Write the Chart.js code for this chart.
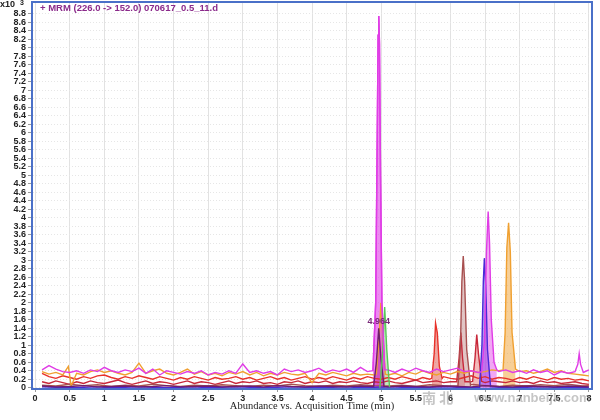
<!DOCTYPE html>
<html>
<head>
<meta charset="utf-8">
<script src="https://cdn.jsdelivr.net/npm/chart.js@4.4.1/dist/chart.umd.min.js"></script>
<style>
  html, body { margin: 0; padding: 0; background: #fff; }
  #wrap { width: 600px; height: 420px; position: relative; }
</style>
</head>
<body>
<div id="wrap"><canvas id="chart" width="600" height="420"></canvas></div>
<script>
// Sample times (min) of the baseline traces
const times = [0.1, 0.2, 0.3, 0.4, 0.5, 0.6, 0.7, 0.8, 0.9, 1.0,
    1.1, 1.2, 1.3, 1.4, 1.5, 1.6, 1.7, 1.8, 1.9, 2.0,
    2.1, 2.2, 2.3, 2.4, 2.5, 2.6, 2.7, 2.8, 2.9, 3.0,
    3.1, 3.2, 3.3, 3.4, 3.5, 3.6, 3.7, 3.8, 3.9, 4.0,
    4.1, 4.2, 4.3, 4.4, 4.5, 4.6, 4.7, 4.8, 4.9, 5.0,
    5.1, 5.2, 5.3, 5.4, 5.5, 5.6, 5.7, 5.8, 5.9, 6.0,
    6.1, 6.2, 6.3, 6.4, 6.5, 6.6, 6.7, 6.8, 6.9, 7.0,
    7.1, 7.2, 7.3, 7.4, 7.5, 7.6, 7.7, 7.8, 7.9, 8.0];
const timesLow = [0.1, 0.3, 0.5, 0.7, 0.9, 1.1, 1.3, 1.5, 1.7, 1.9,
    2.1, 2.3, 2.5, 2.7, 2.9, 3.1, 3.3, 3.5, 3.7, 3.9,
    4.1, 4.3, 4.5, 4.7, 4.9, 5.1, 5.3, 5.5, 5.7, 5.9,
    6.1, 6.3, 6.5, 6.7, 6.9, 7.1, 7.3, 7.5, 7.7, 7.9, 8.0];

// Abundance (x10^3) baselines
const magentaBase = [0.42, 0.52, 0.44, 0.38, 0.36, 0.40, 0.34, 0.42, 0.38, 0.48,
    0.40, 0.36, 0.42, 0.38, 0.46, 0.34, 0.44, 0.30, 0.40, 0.36,
    0.32, 0.38, 0.34, 0.40, 0.30, 0.36, 0.32, 0.40, 0.34, 0.56,
    0.36, 0.40, 0.34, 0.38, 0.30, 0.44, 0.38, 0.42, 0.36, 0.40,
    0.46, 0.36, 0.42, 0.38, 0.44, 0.36, 0.48, 0.38, 0.40, 0.38,
    0.42, 0.36, 0.44, 0.38, 0.46, 0.40, 0.36, 0.44, 0.38, 0.42,
    0.46, 0.38, 0.40, 0.36, 0.40, 0.44, 0.38, 0.42, 0.36, 0.40,
    0.34, 0.42, 0.36, 0.40, 0.30, 0.38, 0.34, 0.40, 0.36, 0.42];
const orangeBase = [0.38, 0.32, 0.36, 0.30, 0.28, 0.34, 0.30, 0.38, 0.42, 0.36,
    0.40, 0.34, 0.30, 0.36, 0.58, 0.34, 0.40, 0.44, 0.34, 0.30,
    0.36, 0.44, 0.32, 0.38, 0.30, 0.34, 0.28, 0.36, 0.32, 0.38,
    0.30, 0.36, 0.28, 0.34, 0.30, 0.36, 0.32, 0.30, 0.34, 0.12,
    0.34, 0.30, 0.36, 0.32, 0.28, 0.34, 0.30, 0.32, 0.30, 0.34,
    0.30, 0.34, 0.28, 0.36, 0.32, 0.40, 0.34, 0.30, 0.36, 0.32,
    0.38, 0.34, 0.40, 0.36, 0.38, 0.42, 0.40, 0.44, 0.42, 0.38,
    0.40, 0.34, 0.38, 0.44, 0.36, 0.40, 0.34, 0.32, 0.30, 0.28];
const redBase = [0.34, 0.26, 0.22, 0.28, 0.24, 0.20, 0.26, 0.22, 0.28, 0.30,
    0.24, 0.20, 0.26, 0.22, 0.28, 0.24, 0.20, 0.26, 0.22, 0.18,
    0.24, 0.20, 0.26, 0.22, 0.18, 0.24, 0.20, 0.22, 0.26, 0.20,
    0.24, 0.18, 0.22, 0.26, 0.20, 0.24, 0.18, 0.22, 0.26, 0.20,
    0.24, 0.20, 0.26, 0.22, 0.18, 0.24, 0.20, 0.26, 0.22, 0.20,
    0.24, 0.20, 0.26, 0.22, 0.18, 0.24, 0.20, 0.22, 0.26, 0.22,
    0.20, 0.24, 0.28, 0.22, 0.26, 0.20, 0.24, 0.22, 0.18, 0.24,
    0.20, 0.26, 0.22, 0.18, 0.24, 0.20, 0.22, 0.18, 0.20, 0.16];
const darkRedBase = [0.14, 0.10, 0.16, 0.12, 0.08, 0.14, 0.10, 0.16, 0.12, 0.10,
    0.14, 0.18, 0.12, 0.08, 0.12, 0.16, 0.10, 0.14, 0.12, 0.08,
    0.12, 0.16, 0.10, 0.14, 0.12, 0.08, 0.12, 0.16, 0.10, 0.14,
    0.12, 0.16, 0.10, 0.12, 0.08, 0.14, 0.12, 0.16, 0.10, 0.14,
    0.12, 0.16, 0.10, 0.14, 0.12, 0.16, 0.12, 0.10, 0.14, 0.12,
    0.16, 0.12, 0.10, 0.14, 0.18, 0.12, 0.14, 0.16, 0.12, 0.14,
    0.12, 0.16, 0.14, 0.10, 0.12, 0.16, 0.14, 0.12, 0.16, 0.12,
    0.14, 0.10, 0.16, 0.12, 0.14, 0.10, 0.12, 0.14, 0.10, 0.08];
const brownBase = [0.06, 0.04, 0.08, 0.05, 0.07, 0.03, 0.06, 0.04, 0.08, 0.05,
    0.03, 0.06, 0.04, 0.07, 0.05, 0.03, 0.06, 0.04, 0.08, 0.05,
    0.03, 0.06, 0.04, 0.07, 0.05, 0.04, 0.06, 0.03, 0.07, 0.05,
    0.04, 0.08, 0.05, 0.03, 0.06, 0.04, 0.07, 0.05, 0.08, 0.04, 0.05];
const plumBase = [0.04, 0.02, 0.03, 0.05, 0.02, 0.03, 0.04, 0.02, 0.03, 0.05,
    0.02, 0.03, 0.04, 0.02, 0.03, 0.04, 0.02, 0.05, 0.03, 0.02,
    0.04, 0.03, 0.02, 0.04, 0.03, 0.02, 0.04, 0.03, 0.02, 0.04,
    0.03, 0.02, 0.05, 0.03, 0.02, 0.04, 0.03, 0.02, 0.04, 0.03, 0.02];
const blueBase = [0.02, 0.01, 0.00, 0.01, 0.02, 0.00, 0.01, 0.02, 0.01, 0.00,
    0.01, 0.02, 0.00, 0.01, 0.02, 0.01, 0.00, 0.01, 0.02, 0.01,
    0.00, 0.01, 0.02, 0.00, 0.01, 0.02, 0.01, 0.00, 0.01, 0.02,
    0.01, 0.00, 0.02, 0.01, 0.00, 0.01, 0.02, 0.01, 0.00, 0.01, 0.01];

// Peaks as [time, abundance]
const magentaPeak1 = [[4.88, 0.40], [4.92, 2.0], [4.94, 5.5], [4.955, 8.3], [4.965, 8.75], [4.975, 8.1], [4.99, 5.0], [5.01, 2.0], [5.05, 0.42]];
const magentaPeak2 = [[6.45, 0.38], [6.49, 1.1], [6.52, 3.2], [6.545, 4.15], [6.565, 3.4], [6.59, 1.6], [6.63, 0.6], [6.67, 0.42]];
const magentaPeak3 = [[7.80, 0.38], [7.84, 0.55], [7.86, 0.80], [7.88, 0.55], [7.92, 0.36]];
const orangePeak1 = [[4.93, 0.32], [4.97, 1.2], [4.995, 2.0], [5.02, 1.3], [5.06, 0.32]];
const orangePeak2 = [[6.76, 0.42], [6.79, 1.3], [6.815, 3.3], [6.84, 3.88], [6.865, 3.2], [6.89, 1.3], [6.94, 0.44]];
const orangeSpike = [[0.48, 0.50], [0.52, 0.04]];
const redPeak = [[5.73, 0.22], [5.765, 0.8], [5.785, 1.52], [5.81, 1.3], [5.84, 0.5], [5.88, 0.22]];
const darkRedPeak1 = [[6.09, 0.14], [6.125, 0.7], [6.15, 1.3], [6.175, 0.7], [6.21, 0.14]];
const darkRedPeak2 = [[6.32, 0.15], [6.355, 0.7], [6.38, 1.25], [6.405, 0.8], [6.45, 0.15]];
const brownPeak = [[6.11, 0.05], [6.145, 1.0], [6.165, 2.5], [6.185, 3.1], [6.205, 2.5], [6.235, 0.9], [6.29, 0.06]];
const plumPeak = [[4.89, 0.03], [4.93, 0.6], [4.964, 1.4], [4.995, 0.7], [5.04, 0.03]];
const bluePeak = [[6.42, 0.01], [6.455, 1.0], [6.475, 2.5], [6.49, 3.05], [6.51, 2.4], [6.535, 0.9], [6.58, 0.02]];
const greenPeak = [[4.98, 0.0], [5.02, 0.8], [5.05, 1.9], [5.08, 0.9], [5.12, 0.02]];

const xTicks = [0, 0.5, 1, 1.5, 2, 2.5, 3, 3.5, 4, 4.5, 5, 5.5, 6, 6.5, 7, 7.5, 8];
const yTicks = [0, 0.2, 0.4, 0.6, 0.8, 1, 1.2, 1.4, 1.6, 1.8, 2, 2.2, 2.4, 2.6, 2.8, 3,
    3.2, 3.4, 3.6, 3.8, 4, 4.2, 4.4, 4.6, 4.8, 5, 5.2, 5.4, 5.6, 5.8, 6, 6.2, 6.4, 6.6,
    6.8, 7, 7.2, 7.4, 7.6, 7.8, 8, 8.2, 8.4, 8.6, 8.8];

const titleText = '+ MRM (226.0 -> 152.0) 070617_0.5_11.d';
const peakLabel = { t: 4.964, v: 1.4, text: '4.964' };

// merge baseline samples with the peaks (baseline samples under a peak are dropped)
function trace(ts, vals, peaks, extras) {
    const pts = [];
    ts.forEach((t, i) => {
        const inside = peaks.some(p => t >= p[0][0] && t <= p[p.length - 1][0]);
        if (!inside) pts.push({ x: t, y: vals[i] });
    });
    peaks.concat(extras || []).forEach(p => p.forEach(([x, y]) => pts.push({ x, y })));
    return pts.sort((a, b) => a.x - b.x);
}

function line(data, color) {
    return { data, borderColor: color, borderWidth: 1.4, pointRadius: 0, fill: false, tension: 0 };
}

function area(peak, color) {
    return {
        data: peak.map(([x, y]) => ({ x, y })),
        borderWidth: 0, borderColor: 'transparent', backgroundColor: color,
        pointRadius: 0, fill: 'origin', tension: 0
    };
}

const datasets = [
    line(trace([], [], [magentaPeak1]), '#e03ce6'),
    line(trace([], [], [greenPeak]), '#58c858'),
    line(trace(timesLow, plumBase, [plumPeak]), '#6e1e6e'),
    line(trace(times, magentaBase, [magentaPeak1, magentaPeak2, magentaPeak3]), '#e03ce6'),
    line(trace(timesLow, blueBase, [bluePeak]), '#4a2ad8'),
    line(trace(times, orangeBase, [orangePeak1, orangePeak2], [orangeSpike]), '#f0a030'),
    line(trace(timesLow, brownBase, [brownPeak]), '#a85050'),
    line(trace(times, darkRedBase, [darkRedPeak1, darkRedPeak2]), '#c8283a'),
    line(trace(times, redBase, [redPeak]), '#e8322a'),
    area(magentaPeak1, 'rgba(224,60,230,0.6)'),
    area(magentaPeak2, 'rgba(224,60,230,0.45)'),
    area(plumPeak, 'rgba(150,40,120,0.55)'),
    area(greenPeak, 'rgba(120,200,120,0.45)'),
    area(orangePeak1, 'rgba(240,140,70,0.5)'),
    area(orangePeak2, 'rgba(240,160,48,0.5)'),
    area(bluePeak, 'rgba(100,80,230,0.55)'),
    area(redPeak, 'rgba(220,60,50,0.45)'),
    area(brownPeak, 'rgba(200,150,150,0.55)'),
    area(darkRedPeak1, 'rgba(230,110,110,0.55)'),
    area(darkRedPeak2, 'rgba(235,130,130,0.55)')
];

const extras = {
    id: 'extras',
    afterDatasetsDraw(chart) {
        const { ctx, chartArea: a, scales: { x, y } } = chart;
        ctx.save();
        // frame
        ctx.strokeStyle = '#4a70c8';
        ctx.lineWidth = 2;
        ctx.strokeRect(a.left, a.top, a.right - a.left, a.bottom - a.top);
        // trace title
        ctx.fillStyle = '#8b2a8b';
        ctx.font = 'bold 9.5px "Liberation Sans", Arial, sans-serif';
        ctx.textBaseline = 'middle';
        ctx.textAlign = 'left';
        ctx.fillText(titleText, 40, 8);
        // peak label
        ctx.fillStyle = '#7a2a7a';
        ctx.font = 'bold 9px "Liberation Sans", Arial, sans-serif';
        ctx.textAlign = 'center';
        ctx.fillText(peakLabel.text, x.getPixelForValue(peakLabel.t), y.getPixelForValue(peakLabel.v) - 7);
        // exponent
        ctx.fillStyle = '#222';
        ctx.textAlign = 'left';
        ctx.fillText('x10', 0, 5);
        ctx.font = 'bold 7px "Liberation Sans", Arial, sans-serif';
        ctx.fillText('3', 20, 3);
        // watermark
        ctx.fillStyle = 'rgba(150,150,150,0.55)';
        ctx.font = 'bold 14px "Noto Sans CJK SC", sans-serif';
        ctx.fillText('南 北', 422, 398);
        ctx.font = 'bold 13px "Liberation Sans", Arial, sans-serif';
        ctx.fillText('www.nanbeijk.com', 474, 398);
        ctx.restore();
    }
};

const tickFont = { family: '"Liberation Sans", Arial, sans-serif', size: 9, weight: 'bold' };
const fmt = v => String(+v.toFixed(1));

new Chart(document.getElementById('chart'), {
    type: 'line',
    data: { datasets },
    options: {
        responsive: false,
        animation: false,
        layout: { padding: { top: 2, right: 8, left: 0, bottom: 0 } },
        plugins: { legend: { display: false }, tooltip: { enabled: false } },
        scales: {
            x: {
                type: 'linear',
                min: -0.045,
                max: 8.045,
                afterBuildTicks: s => { s.ticks = xTicks.map(v => ({ value: v })); },
                afterFit: s => { s.height = 31; s.paddingLeft = 0; s.paddingRight = 0; },
                ticks: { font: tickFont, color: '#222', padding: 1, maxRotation: 0, autoSkip: false, callback: fmt },
                grid: { color: '#e2e2e2', tickLength: 3, tickColor: '#999' },
                border: { color: '#4a70c8', width: 2 },
                title: {
                    display: true,
                    text: 'Abundance vs. Acquisition Time (min)',
                    color: '#222',
                    font: { family: '"Liberation Serif", "Times New Roman", serif', size: 10.5 },
                    padding: { top: 0, bottom: 7 }
                }
            },
            y: {
                type: 'linear',
                min: -0.03,
                max: 9.08,
                afterBuildTicks: s => { s.ticks = yTicks.map(v => ({ value: v })); },
                afterFit: s => { s.width = 32; s.paddingTop = 0; s.paddingBottom = 0; },
                ticks: { font: tickFont, color: '#222', padding: 2, autoSkip: false, callback: fmt },
                grid: { color: '#e6e6e6', tickLength: 4, tickColor: '#999' },
                border: { color: '#4a70c8', width: 2, dash: [1, 2] }
            }
        }
    },
    plugins: [extras]
});
</script>
</body>
</html>
